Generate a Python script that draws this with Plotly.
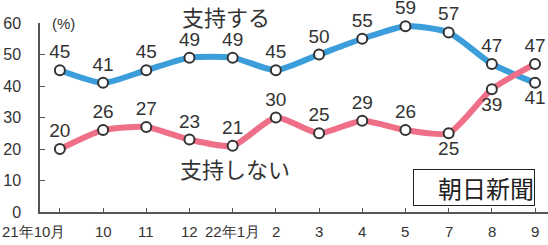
import plotly.graph_objects as go

months = ["21年10月", "10", "11", "12", "22年1月", "2", "3", "4", "5", "7", "8", "9"]
support = [45, 41, 45, 49, 49, 45, 50, 55, 59, 57, 47, 41]
nonsupport = [20, 26, 27, 23, 21, 30, 25, 29, 26, 25, 39, 47]
support_pos = ["top center"] * 11 + ["bottom center"]
nonsupport_pos = ["top center"] * 9 + ["bottom center", "bottom center", "top center"]

x = list(range(len(months)))
FONT = "Liberation Sans, Arial, sans-serif"
JP = "Noto Sans CJK JP, sans-serif"
L, W = 40, 508
XMIN, XMAX = -0.46, 11.3

fig = go.Figure()
for vals, pos, col in [(support, support_pos, "#3b9edb"), (nonsupport, nonsupport_pos, "#ee6f87")]:
    fig.add_trace(go.Scatter(
        x=x, y=vals, mode="lines+markers+text",
        line=dict(color=col, width=6, shape="spline", smoothing=0.6),
        marker=dict(size=10, color="white", line=dict(color="#333", width=2)),
        text=[str(v) for v in vals], textposition=pos,
        textfont=dict(family=FONT, size=19, color="#333"),
        cliponaxis=False, showlegend=False, hoverinfo="skip",
    ))

annotations = []
for i, m in enumerate(months):
    if i == 0:
        annotations.append(dict(text=m, x=-L / W, y=-0.05, xref="paper", yref="paper",
                                xanchor="left", yanchor="top", showarrow=False,
                                font=dict(family=FONT, size=15, color="#333")))
    else:
        annotations.append(dict(text=m, x=i, y=-0.05, xref="x", yref="paper",
                                xanchor="center", yanchor="top", showarrow=False,
                                font=dict(family=FONT, size=15, color="#333")))

annotations += [
    dict(text="(%)", x=0.047, y=1.0, xref="paper", yref="paper", showarrow=False,
         xanchor="center", yanchor="middle", font=dict(family=FONT, size=15, color="#333")),
    dict(text="支持する", x=0.366, y=1.035, xref="paper", yref="paper", showarrow=False,
         xanchor="center", yanchor="middle", font=dict(family=JP, size=22, color="#333")),
    dict(text="支持しない", x=0.384, y=0.233, xref="paper", yref="paper", showarrow=False,
         xanchor="center", yanchor="middle", font=dict(family=JP, size=22, color="#333")),
    dict(text="\u3000朝日新聞", x=0.854, y=0.127, xref="paper", yref="paper", showarrow=False,
         xanchor="center", yanchor="middle", bordercolor="#222", borderwidth=1, borderpad=0,
         font=dict(family=JP, size=24, color="#222")),
]

fig.update_layout(
    width=548, height=245,
    margin=dict(l=L, r=0, t=23, b=33),
    paper_bgcolor="white", plot_bgcolor="white",
    hovermode=False,
    xaxis=dict(range=[XMIN, XMAX], tickmode="array", tickvals=x, showticklabels=False,
               automargin=False,
               showgrid=False, zeroline=False, showline=True, linecolor="#555", linewidth=1.5,
               ticks="inside", ticklen=4, tickcolor="#555"),
    yaxis=dict(range=[0, 60], tickvals=[0, 10, 20, 30, 40, 50, 60], automargin=False,
               showgrid=False, zeroline=False, showline=True, linecolor="#555", linewidth=1.5,
               ticks="inside", ticklen=5, tickcolor="#555", ticklabelstandoff=14,
               tickfont=dict(family=FONT, size=16, color="#333")),
    annotations=annotations,
)
fig.write_html("out.html", config={"displayModeBar": False},
               post_script="document.body.style.margin='0';document.body.style.overflow='hidden';")
